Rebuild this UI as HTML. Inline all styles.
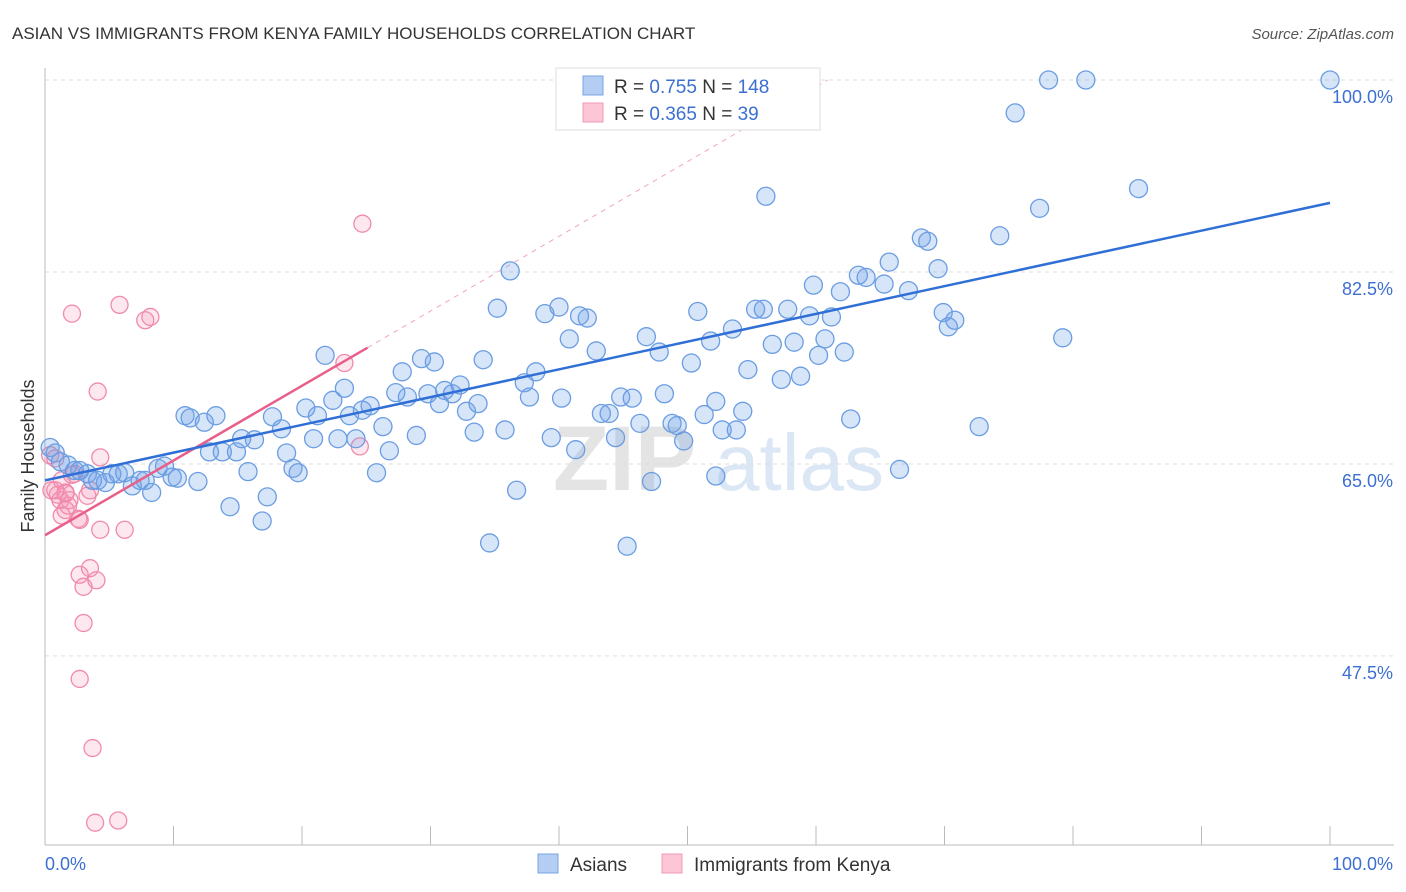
<!DOCTYPE html>
<html><head><meta charset="utf-8">
<style>
body{margin:0;background:#fff;font-family:"Liberation Sans",sans-serif;}
svg{display:block}
</style></head>
<body>
<svg id="chart" width="1406" height="892" viewBox="0 0 1406 892" xmlns="http://www.w3.org/2000/svg" font-family="Liberation Sans, sans-serif">
<text x="12" y="39" font-size="17" fill="#333">ASIAN VS IMMIGRANTS FROM KENYA FAMILY HOUSEHOLDS CORRELATION CHART</text>
<text x="1394" y="39" font-size="15" fill="#555" text-anchor="end" font-style="italic">Source: ZipAtlas.com</text>
<g id="watermark">
<text x="553" y="490" font-size="92" font-weight="bold" fill="#e4e4e4">ZIP</text>
<text x="715" y="490" font-size="80" fill="#dbe7f5">atlas</text>
</g>
<g id="grid"></g>
<g id="axes"></g>
<g id="lines"></g>
<g id="points"></g>
<text transform="translate(34,456) rotate(-90)" font-size="18" fill="#333" text-anchor="middle">Family Households</text>
<g>
<rect x="556" y="68" width="264" height="62" fill="#fff" stroke="#ddd"/>
<rect x="583" y="76" width="20" height="19" fill="#b4cdf2" stroke="#7aa5e3"/>
<text x="614" y="93" font-size="19" fill="#333">R = <tspan fill="#3c6fd1">0.755</tspan>   N = <tspan fill="#3c6fd1">148</tspan></text>
<rect x="583" y="103" width="20" height="19" fill="#fcc6d6" stroke="#f09ab5"/>
<text x="614" y="120" font-size="19" fill="#333">R = <tspan fill="#3c6fd1">0.365</tspan>   N =  <tspan fill="#3c6fd1"> 39</tspan></text>
</g>
<g>
<rect x="538" y="854" width="20" height="19" fill="#b4cdf2" stroke="#7aa5e3"/>
<text x="570" y="871" font-size="19" fill="#333">Asians</text>
<rect x="662" y="854" width="20" height="19" fill="#fcc6d6" stroke="#f09ab5"/>
<text x="694" y="871" font-size="19" fill="#333">Immigrants from Kenya</text>
</g>
</svg>
<script>
const yTicks=[47.5,65.0,82.5,100.0];
const yTickLabels=["47.5%","65.0%","82.5%","100.0%"];
const xTicks=[0,10,20,30,40,50,60,70,80,90,100];
const xTickLabels=["0.0%","100.0%"];
const asianX=[0.4,0.8,1.2,1.8,2.3,2.7,3.3,3.7,4.1,4.7,5.2,5.7,6.2,6.8,7.4,7.8,8.3,8.8,9.3,9.9,10.3,10.9,11.3,11.9,12.4,12.8,13.3,13.8,14.4,14.9,15.3,15.8,16.3,16.9,17.3,17.7,18.4,18.8,19.3,19.7,20.3,20.9,21.2,21.8,22.4,22.8,23.3,23.7,24.2,24.7,25.3,25.8,26.3,26.8,27.3,27.8,28.2,28.9,29.3,29.8,30.3,30.7,31.1,31.7,32.3,32.8,33.4,33.7,34.1,34.6,35.2,35.8,36.2,36.7,37.3,37.7,38.2,38.9,39.4,40.0,40.2,40.8,41.3,41.6,42.2,42.9,43.3,43.9,44.4,44.8,45.3,45.7,46.3,46.8,47.2,47.8,48.2,48.8,49.2,49.7,50.3,50.8,51.3,51.8,52.2,52.2,52.7,53.5,53.8,54.3,54.7,55.3,55.9,56.1,56.6,57.3,57.8,58.3,58.8,59.5,59.8,60.2,60.7,61.2,61.9,62.2,62.7,63.3,63.9,65.3,65.7,66.5,67.2,68.2,68.7,69.5,69.9,70.3,70.8,72.7,74.3,75.5,77.4,78.1,79.2,81.0,85.1,100];
const asianY=[66.5,66.0,65.2,64.9,64.4,64.4,64.1,63.5,63.5,63.3,64.1,64.1,64.2,63.0,63.5,63.5,62.4,64.6,64.8,63.8,63.7,69.4,69.2,63.4,68.8,66.1,69.4,66.1,61.1,66.1,67.3,64.3,67.2,59.8,62.0,69.3,68.2,66.0,64.6,64.2,70.1,67.3,69.4,74.9,70.8,67.3,71.9,69.4,67.3,69.9,70.3,64.2,68.4,66.2,71.5,73.4,71.1,67.6,74.6,71.4,74.3,70.5,71.7,71.4,72.2,69.8,67.9,70.5,74.5,57.8,79.2,68.1,82.6,62.6,72.4,71.1,73.4,78.7,67.4,79.3,71.0,76.4,66.3,78.5,78.3,75.3,69.6,69.6,67.4,71.1,57.5,71.0,68.7,76.6,63.4,75.2,71.4,68.7,68.5,67.1,74.2,78.9,69.5,76.2,70.7,63.9,68.1,77.3,68.1,69.8,73.6,79.1,79.1,89.4,75.9,72.7,79.1,76.1,73.0,78.5,81.3,74.9,76.4,78.4,80.7,75.2,69.1,82.2,82.0,81.4,83.4,64.5,80.8,85.6,85.3,82.8,78.8,77.5,78.1,68.4,85.8,97.0,88.3,100,76.5,100,90.1,100];
const kenyaX=[0.4,0.8,0.5,1.0,1.2,1.3,1.6,1.8,1.9,2.1,2.3,2.6,2.7,2.7,3.0,3.0,3.5,3.7,3.9,4.0,4.1,4.3,4.3,5.7,5.8,6.2,7.8,8.2,2.7,24.5,24.7,23.3,3.3,1.3,1.6,1.6,0.8,2.1,3.5];
const kenyaY=[65.8,65.5,62.6,62.2,61.7,63.5,62.3,61.2,61.7,78.7,64.1,60.0,59.9,54.9,53.8,50.5,55.5,39.1,32.3,54.4,71.6,65.6,59.0,32.5,79.5,59.0,78.1,78.4,45.4,66.6,86.9,74.2,62.1,60.3,60.8,62.4,62.6,64.0,62.6];
const asianTrend=[[0,63.5],[100,88.8]];
const kenyaTrend=[[0,58.5],[25.1,75.6]];
const kenyaTrendExt=[[25.1,75.6],[100,100]];

const NS="http://www.w3.org/2000/svg";
const X0=45,X1=1330,YTOP=80;
const sx=v=>X0+(X1-X0)*v/100;
const sy=v=>YTOP+(100-v)*10.97;
function mk(tag,attrs,parent){const e=document.createElementNS(NS,tag);for(const k in attrs)e.setAttribute(k,attrs[k]);parent.appendChild(e);return e;}
const grid=document.getElementById('grid'),axes=document.getElementById('axes'),lines=document.getElementById('lines'),pts=document.getElementById('points');
yTicks.forEach((t,i)=>{
 const l=mk('line',{x1:X0,x2:1394,y1:sy(t),y2:sy(t),stroke:'#ddd','stroke-dasharray':'4,4'},grid);
 
 
 const tx=mk('text',{x:1393,y:sy(t)+23,'font-size':18,fill:'#3c6fd1','text-anchor':'end'},axes);
 tx.textContent=yTickLabels[i];
 
 
});
const ax=mk('line',{x1:X0,x2:X0,y1:68,y2:845,stroke:'#bbb'},axes);


const bx=mk('line',{x1:X0,x2:1394,y1:845,y2:845,stroke:'#bbb'},axes);


xTicks.forEach(t=>{
 const l=mk('line',{x1:sx(t),x2:sx(t),y1:826,y2:845,stroke:'#bbb'},axes);
 
 
});
const xl0=mk('text',{x:45,y:870,'font-size':18,fill:'#3c6fd1'},axes);xl0.textContent=xTickLabels[0];


const xl1=mk('text',{x:1393,y:870,'font-size':18,fill:'#3c6fd1','text-anchor':'end'},axes);xl1.textContent=xTickLabels[1];


for(let i=0;i<kenyaX.length;i++){
 const c=mk('circle',{cx:sx(kenyaX[i]),cy:sy(kenyaY[i]),r:8.5,fill:'rgba(244,150,180,0.22)',stroke:'#f08aab','stroke-width':1.3},pts);
 
 
}
for(let i=0;i<asianX.length;i++){
 const c=mk('circle',{cx:sx(asianX[i]),cy:sy(asianY[i]),r:9,fill:'rgba(110,160,230,0.28)',stroke:'#6b9de3','stroke-width':1.3},pts);
 
 
}
// trend lines on top
const ext=mk('line',{x1:sx(kenyaTrendExt[0][0]),y1:sy(kenyaTrendExt[0][1]),x2:sx(kenyaTrendExt[1][0]),y2:sy(kenyaTrendExt[1][1]),stroke:'#f2a5bd','stroke-width':1,'stroke-dasharray':'5,5'},lines);


// clip extension at 100% line: compute x where y=100
(function(){const s=(kenyaTrend[1][1]-kenyaTrend[0][1])/(kenyaTrend[1][0]-kenyaTrend[0][0]);const xe=kenyaTrend[0][0]+(100-kenyaTrend[0][1])/s;ext.setAttribute('x2',sx(xe));ext.setAttribute('y2',sy(100));})();
const kl=mk('line',{x1:sx(kenyaTrend[0][0]),y1:sy(kenyaTrend[0][1]),x2:sx(kenyaTrend[1][0]),y2:sy(kenyaTrend[1][1]),stroke:'#e8608a','stroke-width':2.5},pts);


const al=mk('line',{x1:sx(asianTrend[0][0]),y1:sy(asianTrend[0][1]),x2:sx(asianTrend[1][0]),y2:sy(asianTrend[1][1]),stroke:'#2f6fd6','stroke-width':2.5},pts);


</script>
</body></html>
